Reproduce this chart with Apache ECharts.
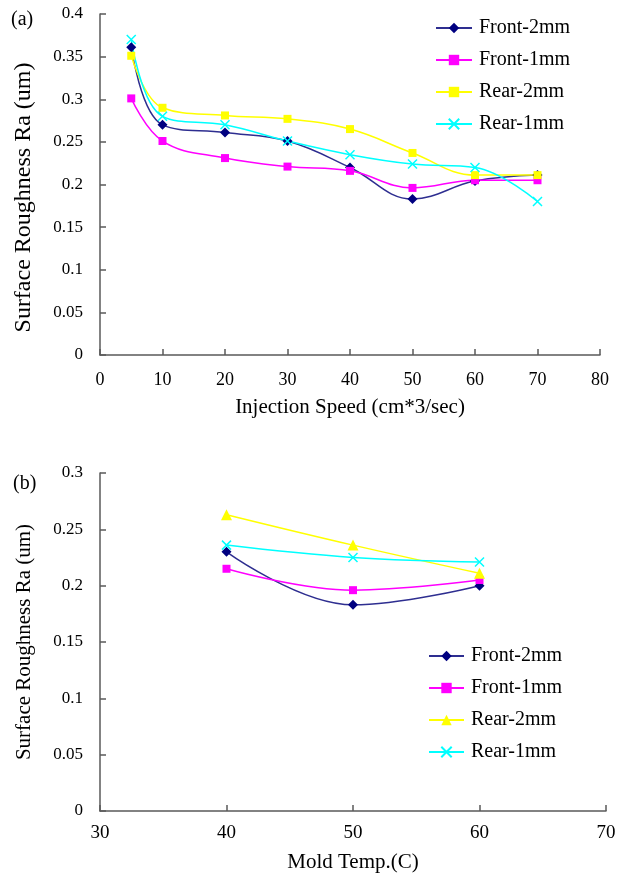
<!DOCTYPE html>
<html>
<head>
<meta charset="utf-8">
<script src="https://cdn.jsdelivr.net/npm/echarts@6/dist/echarts.min.js"></script>
<style>
  html, body { margin: 0; padding: 0; background: #fff; }
  #main { width: 619px; height: 876px; }
</style>
</head>
<body>
<div id="main"></div>
<script>
// (a) injection speed
const speed = [5, 10, 20, 30, 40, 50, 60, 70];
const aFront2 = [0.361, 0.270, 0.261, 0.251, 0.220, 0.183, 0.204, 0.211];
const aFront1 = [0.301, 0.251, 0.231, 0.221, 0.216, 0.196, 0.205, 0.205];
const aRear2 = [0.351, 0.290, 0.281, 0.277, 0.265, 0.237, 0.211, 0.211];
const aRear1 = [0.370, 0.280, 0.270, 0.251, 0.235, 0.224, 0.220, 0.180];
// (b) mold temperature
const temp = [40, 50, 60];
const bFront2 = [0.230, 0.183, 0.200];
const bFront1 = [0.215, 0.196, 0.205];
const bRear2 = [0.263, 0.236, 0.211];
const bRear1 = [0.236, 0.225, 0.221];

const names = ['Front-2mm', 'Front-1mm', 'Rear-2mm', 'Rear-1mm'];

const FONT = 'Liberation Serif';
const AXIS = '#5a5a5a';
const X_MARK = 'path://M0,0L10,10M10,0L0,10';

function pairs(xs, ys) {
  return xs.map((x, i) => [x, ys[i]]);
}

// look of each series: colour, marker
const looks = {
  'Front-2mm': { color: '#000080', line: '#2e2e90', symbol: 'diamond', size: 10 },
  'Front-1mm': { color: '#ff00ff', line: '#ff00ff', symbol: 'rect', size: 8 },
  'Rear-2mm': { color: '#ffff00', line: '#ffff00', symbol: 'rect', size: 8 },
  'Rear-1mm': { color: '#00ffff', line: '#00ffff', symbol: X_MARK, size: 9 }
};

function makeSeries(prefix, name, xs, ys, idx, symbolOverride) {
  let lk = looks[name];
  let isX = lk.symbol === X_MARK;
  return {
    name: prefix + name,
    type: 'line',
    xAxisIndex: idx,
    yAxisIndex: idx,
    data: pairs(xs, ys),
    smooth: 0.4,
    symbol: symbolOverride || lk.symbol,
    symbolSize: symbolOverride ? 11 : lk.size,
    showAllSymbol: true,
    lineStyle: { color: lk.line, width: 1.5 },
    itemStyle: isX
      ? { color: 'transparent', borderColor: lk.color, borderWidth: 1.5 }
      : { color: lk.color, borderWidth: 0 },
    emphasis: { disabled: true },
    z: 3
  };
}

function xAxisOf(idx, min, max, title, nameGap, labelSize, labelMargin) {
  return {
    type: 'value',
    gridIndex: idx,
    min: min,
    max: max,
    interval: 10,
    name: title,
    nameLocation: 'middle',
    nameGap: nameGap,
    nameTextStyle: { fontFamily: FONT, fontSize: 21, color: '#000' },
    axisLine: { show: true, lineStyle: { color: AXIS, width: 1.5 } },
    axisTick: { show: true, inside: true, length: 6, lineStyle: { color: AXIS, width: 1.5 } },
    axisLabel: { fontFamily: FONT, fontSize: labelSize, color: '#000', margin: labelMargin },
    splitLine: { show: false }
  };
}

function yAxisOf(idx, max, nameSize, nameGap, namePad) {
  return {
    type: 'value',
    gridIndex: idx,
    min: 0,
    max: max,
    interval: 0.05,
    name: 'Surface Roughness Ra (um)',
    nameLocation: 'middle',
    nameGap: nameGap,
    nameRotate: 90,
    nameTextStyle: { fontFamily: FONT, fontSize: nameSize, color: '#000', padding: namePad },
    axisLine: { show: true, lineStyle: { color: AXIS, width: 1.5 } },
    axisTick: { show: true, inside: true, length: 6, lineStyle: { color: AXIS, width: 1.5 } },
    axisLabel: { fontFamily: FONT, fontSize: 17, color: '#000', margin: 17 },
    splitLine: { show: false }
  };
}

function legendOf(prefix, left, top, width) {
  return {
    orient: 'vertical',
    left: left,
    top: top,
    itemWidth: width,
    itemHeight: 13,
    itemGap: 12,
    data: names.map(n => prefix + n),
    formatter: n => n.slice(2),
    textStyle: { fontFamily: FONT, fontSize: 20, color: '#000', padding: [0, 0, 0, 2] },
    selectedMode: false
  };
}

let chart = echarts.init(document.getElementById('main'), null, { renderer: 'canvas' });

let option = {
  backgroundColor: '#fff',
  animation: false,
  title: [
    { text: '(a)', left: 6, top: 5, textStyle: { fontFamily: FONT, fontSize: 20, fontWeight: 'normal', color: '#000' } },
    { text: '(b)', left: 8, top: 469, textStyle: { fontFamily: FONT, fontSize: 20, fontWeight: 'normal', color: '#000' } }
  ],
  grid: [
    { left: 100, top: 14, width: 500, height: 341 },
    { left: 100, top: 473, width: 506, height: 338 }
  ],
  xAxis: [
    xAxisOf(0, 0, 80, 'Injection Speed (cm*3/sec)', 42, 18, 16),
    xAxisOf(1, 30, 70, 'Mold Temp.(C)', 41, 19, 13)
  ],
  yAxis: [
    yAxisOf(0, 0.4, 24, 64, [0, 26, 0, 0]),
    yAxisOf(1, 0.3, 21, 65, [0, 0, 0, 0])
  ],
  legend: [
    legendOf('a:', 430, 13, 36),
    legendOf('b:', 423, 641, 35)
  ],
  series: [
    makeSeries('a:', 'Front-2mm', speed, aFront2, 0),
    makeSeries('a:', 'Front-1mm', speed, aFront1, 0),
    makeSeries('a:', 'Rear-2mm', speed, aRear2, 0),
    makeSeries('a:', 'Rear-1mm', speed, aRear1, 0),
    makeSeries('b:', 'Front-2mm', temp, bFront2, 1),
    makeSeries('b:', 'Front-1mm', temp, bFront1, 1),
    makeSeries('b:', 'Rear-2mm', temp, bRear2, 1, 'triangle'),
    makeSeries('b:', 'Rear-1mm', temp, bRear1, 1)
  ]
};

chart.setOption(option);
</script>
</body>
</html>
